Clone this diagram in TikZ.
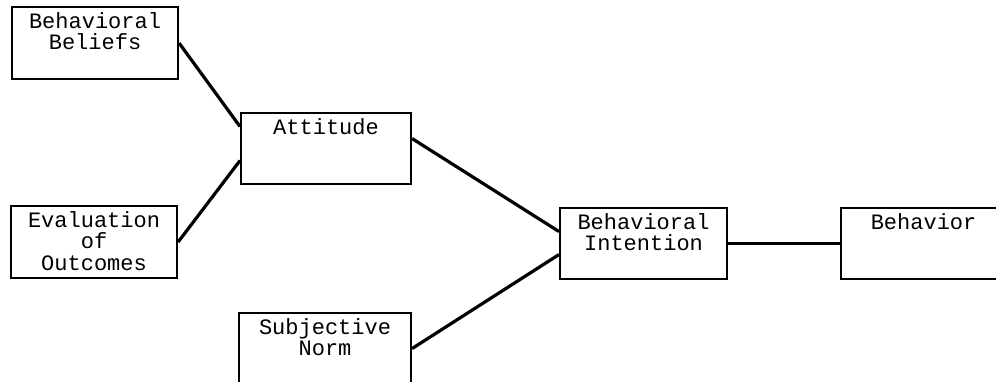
\documentclass[tikz,border=0pt]{standalone}
\usepackage{fontspec}
\setmonofont{Liberation Mono}
\begin{document}
\begin{tikzpicture}[x=1pt,y=-1pt,
  box/.style={draw,line width=2.1pt,inner sep=0pt,anchor=north west},
  txt/.style={anchor=north,inner sep=0pt,align=center,yshift=-6pt,
    font=\fontsize{22}{21.5}\selectfont\ttfamily},
  link/.style={line width=3.2pt}]
\useasboundingbox (0,0) rectangle (996,381);
\clip (0,0) rectangle (996,381);
\node[box,minimum width=166pt,minimum height=72pt] (beliefs) at (11,6) {};
\node[box,minimum width=166pt,minimum height=72pt] (outcomes) at (10,205) {};
\node[box,minimum width=170pt,minimum height=71pt] (attitude) at (240,112) {};
\node[box,minimum width=172pt,minimum height=71pt] (norm) at (238,312) {};
\node[box,minimum width=167pt,minimum height=71pt] (intention) at (559,207) {};
\node[box,minimum width=165pt,minimum height=71pt] (behavior) at (840,207) {};
\node[txt] (beliefstxt) at (beliefs.north) {Behavioral\\Beliefs};
\node[txt] (outcomestxt) at (outcomes.north) {Evaluation\\of\\Outcomes};
\node[txt] (attitudetxt) at (attitude.north) {Attitude};
\node[txt] (normtxt) at (norm.north) {Subjective\\Norm};
\node[txt] (intentiontxt) at (intention.north) {Behavioral\\Intention};
\node[txt] (behaviortxt) at (behavior.north) {Behavior};
\draw[link] (beliefs.east) -- ([yshift=22pt]attitude.west);
\draw[link] (outcomes.east) -- ([yshift=-12pt]attitude.west);
\draw[link] ([yshift=10pt]attitude.east) -- ([yshift=12pt]intention.west);
\draw[link] (norm.east) -- ([yshift=-11pt]intention.west);
\draw[line width=2.2pt] (intention.east) -- (behavior.west);
\end{tikzpicture}
\end{document}
